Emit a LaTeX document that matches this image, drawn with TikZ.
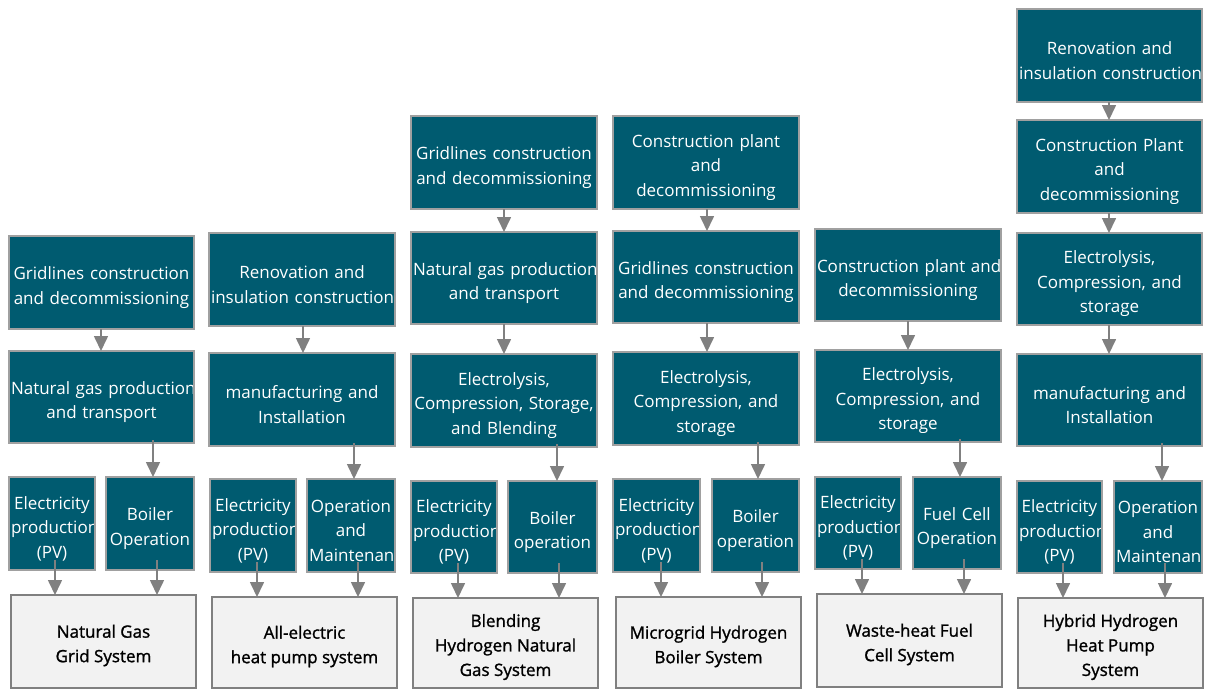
\documentclass[tikz,border=0pt]{standalone}
\usepackage{fontspec}
\setmainfont{Open Sans}
\newfontfamily\labelfont{Open Sans}[FakeBold=1.3]
\usetikzlibrary{arrows.meta,calc}

\definecolor{stagefill}{RGB}{0,91,112}
\definecolor{stageedge}{RGB}{160,160,160}
\definecolor{sysfill}{RGB}{242,242,242}
\definecolor{sysedge}{RGB}{128,128,128}
\definecolor{flowgray}{RGB}{128,128,128}

\tikzset{
  stagebox/.style={draw=stageedge, fill=stagefill, line width=1.2pt, inner sep=0pt, outer sep=0pt},
  systembox/.style={draw=sysedge, fill=sysfill, line width=1.2pt, inner sep=0pt, outer sep=0pt},
  stagetext/.style={text=white, font={\fontsize{17}{24.5}\selectfont\hyphenpenalty=10000\lefthyphenmin=64},
    align=center, inner sep=0pt},
  systemtext/.style={text=black, font=\labelfont\fontsize{17}{24.5}\selectfont, align=center, inner sep=0pt},
  flow/.style={draw=flowgray, line width=1.6pt, -{Triangle[width=14pt,length=15pt]}}
}

% stage box: name, left, top, right, bottom, text
% long lines start at the left edge and are cut off by the box frame
\newcommand\stage[6]{%
  \node[stagebox, minimum width={(#4-#2)*1pt}, minimum height={(#5-#3)*1pt},
    path picture={
      \clip (path picture bounding box.north west) rectangle ([yshift=10pt]path picture bounding box.south east);
      \node[stagetext, text width={(#4-#2-4)*1pt}] at ([yshift=-5pt]path picture bounding box.center) {#6};
    }] (#1) at ({(#2+#4)/2},{(#3+#5)/2}) {};}

% system box: name, left, top, right, bottom, text
\newcommand\system[6]{%
  \node[systembox, minimum width={(#4-#2)*1pt}, minimum height={(#5-#3)*1pt},
    path picture={
      \node[systemtext] at ([yshift=-4pt]path picture bounding box.center) {#6};
    }] (#1) at ({(#2+#4)/2},{(#3+#5)/2}) {};}

% vertical connector: from, to, x position, start inset
\newcommand\flowlink[4]{%
  \draw[flow] let \p1=(#1.south), \p2=(#2.north) in (#3pt,\y1+#4pt) -- (#3pt,\y2);}

\begin{document}
\begin{tikzpicture}[x=1pt,y=-1pt]
\useasboundingbox (0,0) rectangle (1207,689);

% Natural gas grid
\stage{a1}{9}{236}{194}{329}{Gridlines~construction\\and~decommissioning}
\stage{a2}{9}{351}{194}{443}{Natural~gas~production\\and~transport}
\stage{ae}{9}{477}{95}{570}{Electricity\\production\\(PV)}
\stage{ab}{106}{477}{194}{570}{Boiler\\Operation}
\system{ag}{11}{595}{196}{688}{Natural Gas\\Grid System}
\flowlink{a1}{a2}{101}{0}
\flowlink{a2}{ab}{153}{3}
\flowlink{ae}{ag}{55}{10}
\flowlink{ab}{ag}{157}{10}

% All-electric heat pump
\stage{b1}{209}{233}{395}{326}{Renovation~and\\insulation~construction}
\stage{b2}{209}{353}{395}{446}{manufacturing~and\\Installation}
\stage{be}{210}{479}{296}{572}{Electricity\\production\\(PV)}
\stage{bo}{307}{479}{395}{572}{Operation\\and\\Maintenance}
\system{bg}{212}{597}{397}{688}{All-electric\\heat pump system}
\flowlink{b1}{b2}{303}{0}
\flowlink{b2}{bo}{354}{3}
\flowlink{be}{bg}{257}{10}
\flowlink{bo}{bg}{358}{10}

% Blending hydrogen natural gas
\stage{c1}{411}{116}{597}{209}{Gridlines~construction\\and~decommissioning}
\stage{c2}{411}{232}{597}{324}{Natural~gas~production\\and~transport}
\stage{c3}{411}{354}{597}{447}{Electrolysis,\\Compression,~Storage,\\and~Blending}
\stage{ce}{411}{481}{497}{573}{Electricity\\production\\(PV)}
\stage{cb}{508}{481}{597}{573}{Boiler\\operation}
\system{cg}{413}{598}{598}{688}{Blending\\Hydrogen Natural\\Gas System}
\flowlink{c1}{c2}{504}{0}
\flowlink{c2}{c3}{504}{0}
\flowlink{c3}{cb}{557}{3}
\flowlink{ce}{cg}{458}{10}
\flowlink{cb}{cg}{559}{10}

% Microgrid hydrogen boiler
\stage{d1}{613}{116}{799}{209}{Construction~plant\\and\\decommissioning}
\stage{d2}{613}{231}{799}{323}{Gridlines~construction\\and~decommissioning}
\stage{d3}{613}{352}{799}{445}{Electrolysis,\\Compression,~and\\storage}
\stage{de}{613}{479}{700}{572}{Electricity\\production\\(PV)}
\stage{db}{712}{479}{799}{572}{Boiler\\operation}
\system{dg}{616}{597}{801}{688}{Microgrid Hydrogen\\Boiler System}
\flowlink{d1}{d2}{707}{0}
\flowlink{d2}{d3}{707}{0}
\flowlink{d3}{db}{758}{3}
\flowlink{de}{dg}{661}{10}
\flowlink{db}{dg}{762}{10}

% Waste-heat fuel cell
\stage{e1}{815}{229}{1001}{321}{Construction~plant~and\\decommissioning}
\stage{e2}{815}{350}{1001}{442}{Electrolysis,\\Compression,~and\\storage}
\stage{ee}{815}{477}{901}{569}{Electricity\\production\\(PV)}
\stage{ef}{913}{477}{1001}{569}{Fuel~Cell\\Operation}
\system{eg}{817}{594}{1002}{687}{Waste-heat Fuel\\Cell System}
\flowlink{e1}{e2}{908}{0}
\flowlink{e2}{ef}{960}{3}
\flowlink{ee}{eg}{862}{10}
\flowlink{ef}{eg}{964}{10}

% Hybrid hydrogen heat pump
\stage{f1}{1017}{9}{1202}{102}{Renovation~and\\insulation~construction}
\stage{f2}{1017}{120}{1202}{213}{Construction~Plant\\and\\decommissioning}
\stage{f3}{1017}{233}{1202}{325}{Electrolysis,\\Compression,~and\\storage}
\stage{f4}{1017}{354}{1202}{446}{manufacturing~and\\Installation}
\stage{fe}{1017}{481}{1102}{573}{Electricity\\production\\(PV)}
\stage{fo}{1114}{481}{1202}{573}{Operation\\and\\Maintenance}
\system{fg}{1018}{598}{1203}{688}{Hybrid Hydrogen\\Heat Pump\\System}
\flowlink{f1}{f2}{1109}{0}
\flowlink{f2}{f3}{1109}{0}
\flowlink{f3}{f4}{1109}{0}
\flowlink{f4}{fo}{1162}{3}
\flowlink{fe}{fg}{1063}{10}
\flowlink{fo}{fg}{1165}{10}
\end{tikzpicture}
\end{document}
